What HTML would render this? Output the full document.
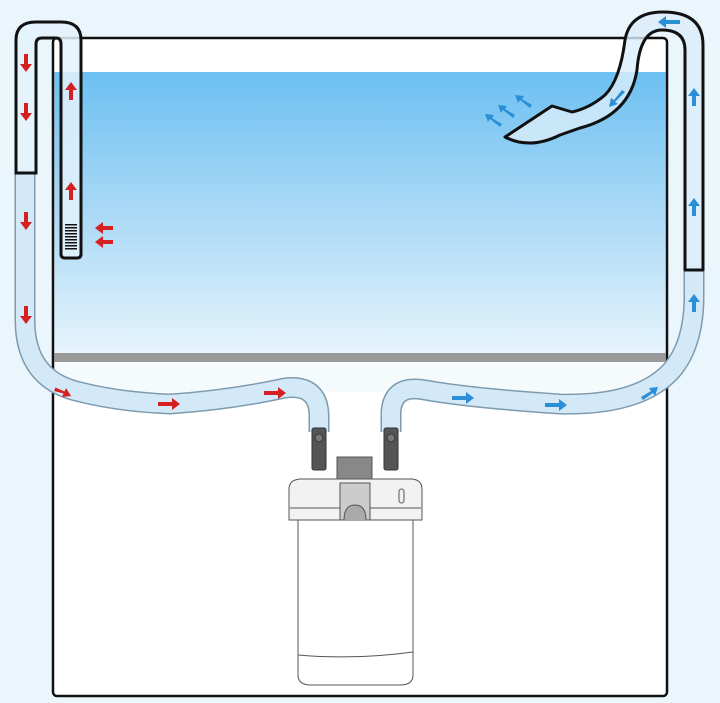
<!DOCTYPE html>
<html><head><meta charset="utf-8"><style>html,body{margin:0;padding:0;background:#eaf5fc}svg{display:block}</style></head>
<body>
<svg width="720" height="703" viewBox="0 0 720 703" xmlns="http://www.w3.org/2000/svg">
<defs>
<linearGradient id="w" x1="0" y1="0" x2="0" y2="1">
<stop offset="0" stop-color="#6cc0f2"/><stop offset="0.5" stop-color="#aad9f6"/><stop offset="1" stop-color="#e6f4fc"/>
</linearGradient>
</defs>
<rect width="720" height="703" fill="#eaf5fc"/>
<!-- tank -->
<rect x="53" y="38" width="614" height="658" rx="4" fill="#fff" stroke="#111" stroke-width="2.5"/>
<rect x="54.5" y="72" width="611" height="281" fill="url(#w)"/>
<rect x="54.5" y="353" width="611" height="9" fill="#999"/>
<rect x="54.5" y="362" width="611" height="30" fill="#f5fafd"/>
<!-- hoses -->
<g fill="none" stroke-linecap="butt" stroke-linejoin="round">
<path d="M25 170 L25 320 Q25 380 80 392 Q120 402 170 404 Q230 400 285 388 Q318 384 319 415 L319 432" stroke="#7d9bb0" stroke-width="21"/>
<path d="M25 170 L25 320 Q25 380 80 392 Q120 402 170 404 Q230 400 285 388 Q318 384 319 415 L319 432" stroke="#d3e9f7" stroke-width="18"/>
<path d="M391 432 L391 412 Q393 384 425 390 Q470 398 560 404 Q640 406 672 370 Q693 345 694 300 L694 265" stroke="#7d9bb0" stroke-width="21"/>
<path d="M391 432 L391 412 Q393 384 425 390 Q470 398 560 404 Q640 406 672 370 Q693 345 694 300 L694 265" stroke="#d3e9f7" stroke-width="18"/>
</g>
<!-- left U pipe -->
<path d="M16 173 L16 40 Q16 22 36 22 L61 22 Q81 22 81 40 L81 254 Q81 258 77 258 L65 258 Q61 258 61 254 L61 44 Q61 38 56 38 L42 38 Q36 38 36 44 L36 173 Z" fill="#e3f2fb" fill-opacity="0.85" stroke="#111" stroke-width="3"/>
<g fill="#111"><rect x="65" y="224" width="12" height="1.5"/><rect x="65" y="227" width="12" height="1.5"/><rect x="65" y="230" width="12" height="1.5"/><rect x="65" y="233" width="12" height="1.5"/><rect x="65" y="236" width="12" height="1.5"/><rect x="65" y="239" width="12" height="1.5"/><rect x="65" y="242" width="12" height="1.5"/><rect x="65" y="245" width="12" height="1.5"/><rect x="65" y="248" width="12" height="1.5"/></g>
<!-- right pipe -->
<path d="M703 270 L703 45 Q703 12 663 12 Q630 12 625 40 Q620 80 605 95 Q590 108 572 112 L552 106 L505 137 Q530 150 560 135 L580 128 Q630 115 637 70 Q640 30 662 30 Q685 30 685 50 L685 270 Z" fill="#dbeefa" fill-opacity="0.8" stroke="#111" stroke-width="3" stroke-linejoin="round"/>
<!-- red arrows -->
<g fill="#d42020">
<path d="M24 54h4v10h4l-6 8-6-8h4z"/>
<path d="M24 103h4v10h4l-6 8-6-8h4z"/>
<path d="M24 212h4v10h4l-6 8-6-8h4z"/>
<path d="M24 306h4v10h4l-6 8-6-8h4z"/>
<path d="M69 100h4v-10h4l-6-8-6 8h4z"/>
<path d="M69 200h4v-10h4l-6-8-6 8h4z"/>
<path d="M113 226v4h-10v4l-8-6 8-6v4z"/>
<path d="M113 240v4h-10v4l-8-6 8-6v4z"/>
<path d="M54 391l1.5-3.5 9 4 1.5-3.5 5 8-9 1 1.5-3.5z"/>
<path d="M158 402h14v-4l8 6-8 6v-4h-14z"/>
<path d="M264 391h14v-4l8 6-8 6v-4h-14z"/>
</g>
<!-- blue arrows -->
<g fill="#2b8fd8">
<path d="M692 106h4v-10h4l-6-8-6 8h4z"/>
<path d="M692 216h4v-10h4l-6-8-6 8h4z"/>
<path d="M692 312h4v-10h4l-6-8-6 8h4z"/>
<path d="M680 20v4h-14v4l-8-6 8-6v4z"/>
<path d="M452 396h14v-4l8 6-8 6v-4h-14z"/>
<path d="M545 403h14v-4l8 6-8 6v-4h-14z"/>
<path d="M643 400l-2-3 10-6-2-3 9-1-3 9-2-3z"/>
<path d="M625 92l-3-2-8 10-3-2-2 9 9-3-3-2z"/>
<path d="M530 108l2-3-10-6 2-3-9-1 3 8 2-3z"/>
<path d="M513 118l2-3-10-6 2-3-9-1 3 8 2-3z"/>
<path d="M500 127l2-3-10-6 2-3-9-1 3 8 2-3z"/>
</g>
<!-- filter -->
<g stroke="#555" stroke-width="1" >
<rect x="337" y="457" width="35" height="24" fill="#888"/>
<path d="M289 489 Q289 480 300 479 L412 479 Q422 480 422 489 L422 520 L289 520 Z" fill="#f2f2f2"/>
<path d="M298 520 L413 520 L413 675 Q413 685 400 685 L311 685 Q298 685 298 675 Z" fill="#fff"/>
<path d="M298 655 Q355 660 413 652" fill="none"/>
<path d="M290 508 L421 508" fill="none"/>
<rect x="340" y="483" width="30" height="37" fill="#ccc"/>
<path d="M344 520 Q344 505 355 505 Q366 505 366 520" fill="#aaa"/>
<rect x="399" y="489" width="5" height="14" rx="2.5" fill="#eee"/>
</g>
<g fill="#555" stroke="#333" stroke-width="1">
<rect x="312" y="428" width="14" height="42" rx="2"/>
<rect x="384" y="428" width="14" height="42" rx="2"/>
<circle cx="319" cy="438" r="4" fill="#777"/>
<circle cx="391" cy="438" r="4" fill="#777"/>
</g>
</svg>
</body></html>
